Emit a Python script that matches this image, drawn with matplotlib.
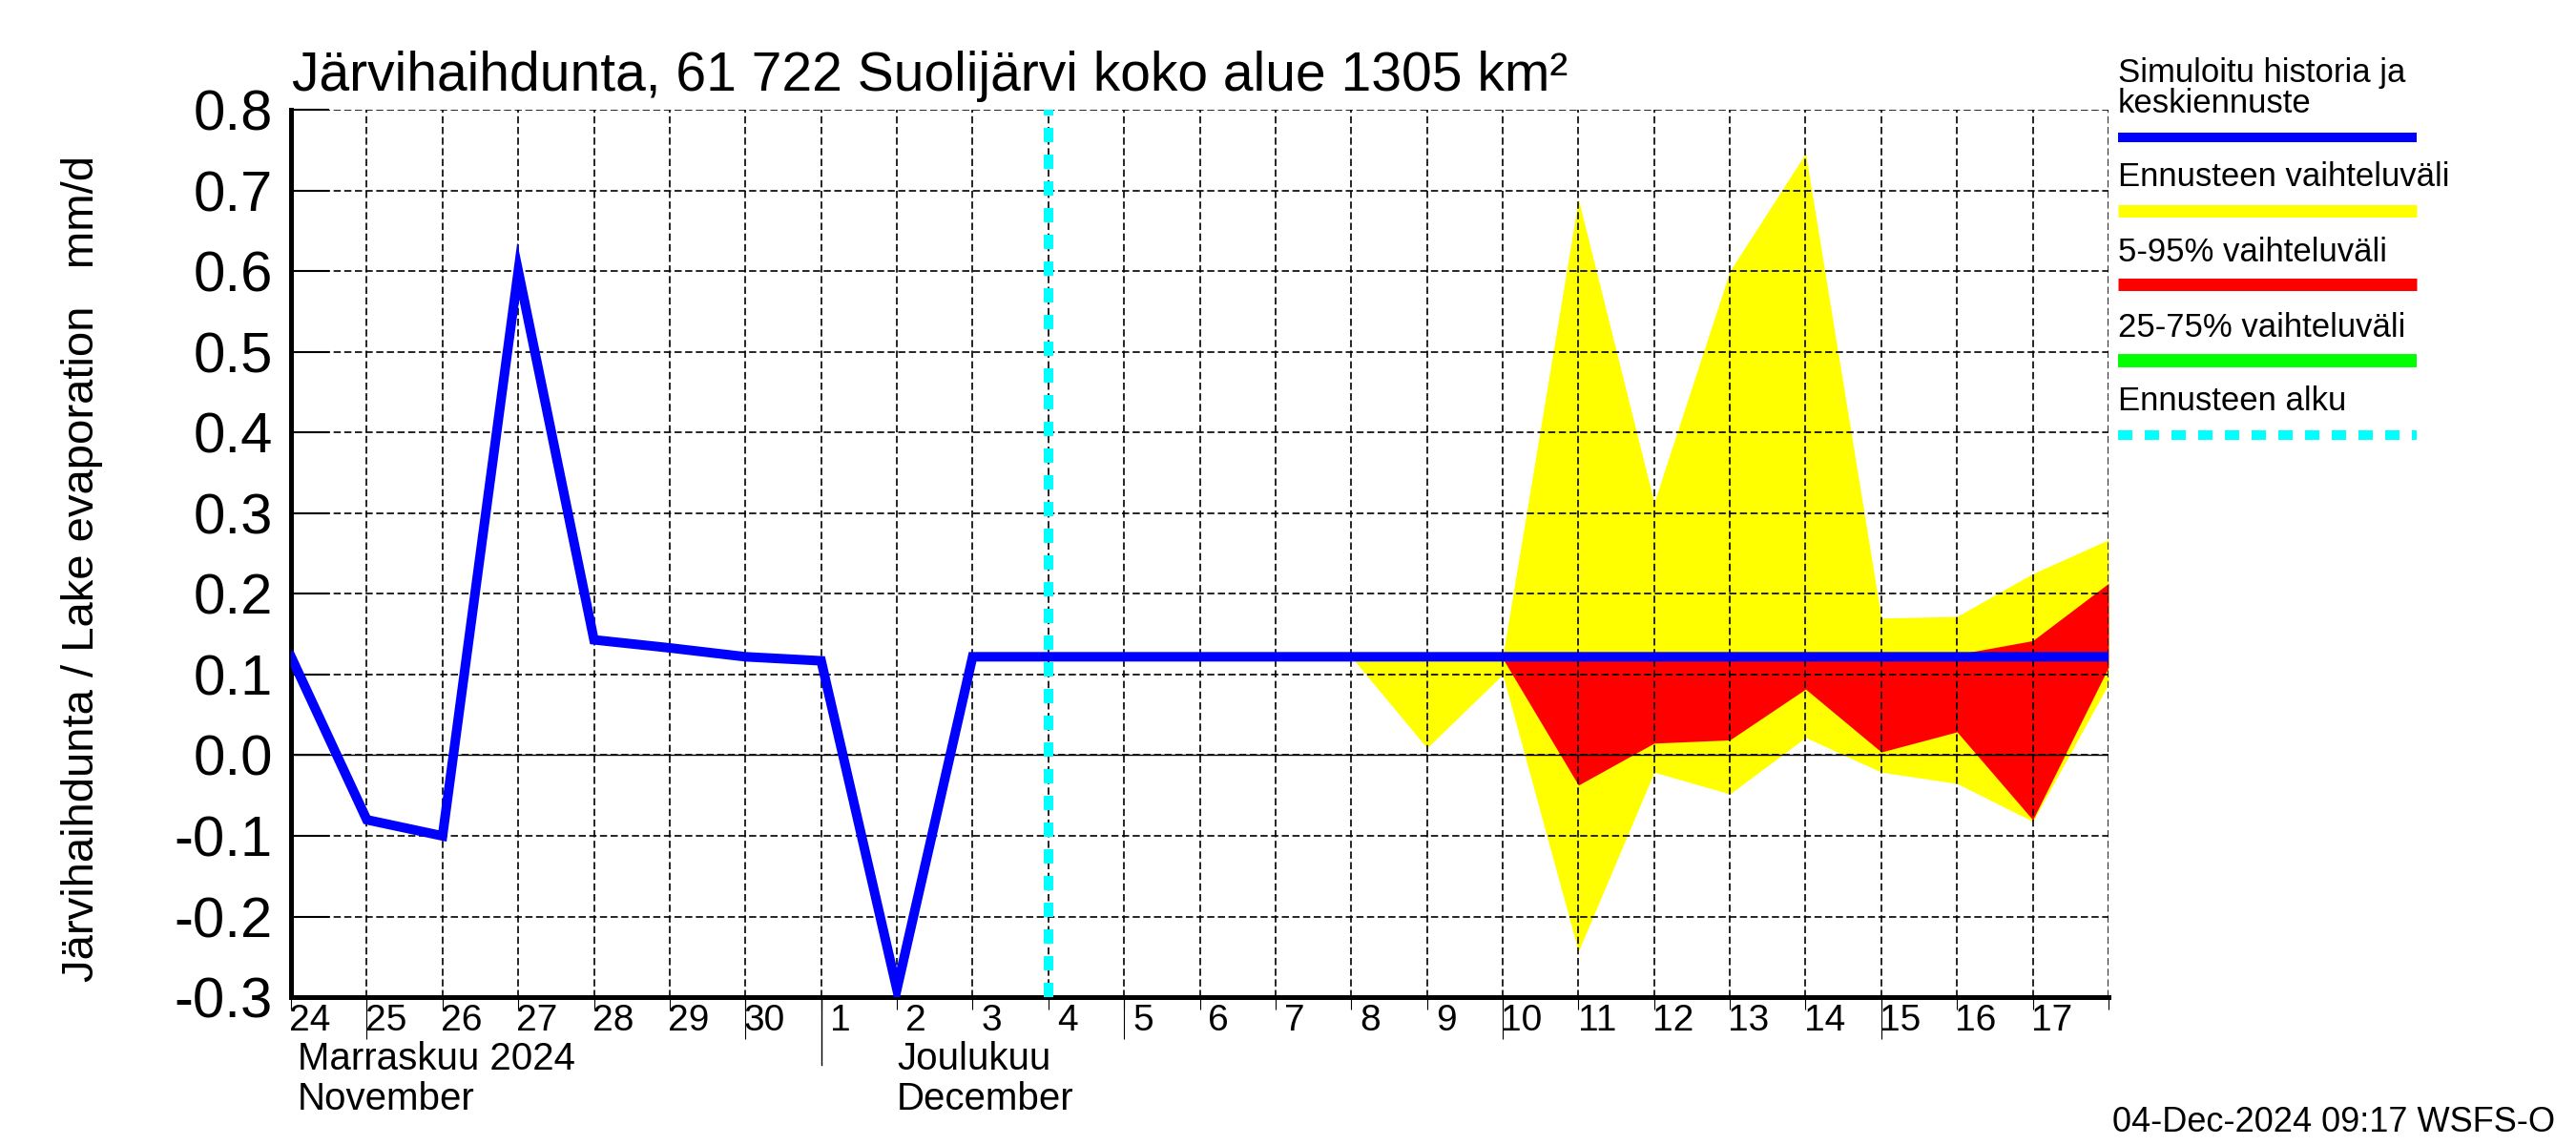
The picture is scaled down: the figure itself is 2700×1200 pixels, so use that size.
import numpy as np
import matplotlib
matplotlib.use("Agg")
import matplotlib.pyplot as plt
import matplotlib.dates as mdates
from matplotlib.lines import Line2D
from matplotlib.transforms import blended_transform_factory

NARROW = ["Liberation Sans Narrow", "Liberation Sans", "DejaVu Sans"]
REGULAR = ["Liberation Sans", "DejaVu Sans"]

# simulated history + mean forecast, one value per day (00:00)
sim_dates = np.arange("2024-11-24", "2024-12-19", dtype="datetime64[D]")
sim_vals = [0.122, -0.080, -0.100, 0.600, 0.143, 0.133, 0.122, 0.117, -0.290, 0.122,
            0.122, 0.122, 0.122, 0.122, 0.122, 0.122, 0.122, 0.122, 0.122, 0.122,
            0.122, 0.122, 0.122, 0.122, 0.122]

# forecast range (min-max)
ens_dates = np.arange("2024-12-08", "2024-12-19", dtype="datetime64[D]")
ens_hi = [0.122, 0.122, 0.122, 0.689, 0.313, 0.600, 0.746, 0.170, 0.172, 0.225, 0.267]
ens_lo = [0.122, 0.009, 0.100, -0.243, -0.021, -0.048, 0.022, -0.021, -0.035, -0.082, 0.088]

# 5-95 % range
p5_dates = np.arange("2024-12-10", "2024-12-19", dtype="datetime64[D]")
p95 = [0.122, 0.122, 0.122, 0.122, 0.122, 0.122, 0.125, 0.142, 0.213]
p5 = [0.120, -0.037, 0.015, 0.019, 0.082, 0.004, 0.029, -0.080, 0.109]

fc_start = np.datetime64("2024-12-04")
yticks = [-0.3, -0.2, -0.1, 0.0, 0.1, 0.2, 0.3, 0.4, 0.5, 0.6, 0.7, 0.8]

title = "Järvihaihdunta, 61 722 Suolijärvi koko alue 1305 km²"
ylab = "Järvihaihdunta / Lake evaporation   mm/d"
legend_items = [("Simuloitu historia ja\nkeskiennuste", "#0000FF"),
                ("Ennusteen vaihteluväli", "#FFFF00"),
                ("5-95% vaihteluväli", "#FF0000"),
                ("25-75% vaihteluväli", "#00FF00"),
                ("Ennusteen alku", "#00FFFF")]

fig = plt.figure(figsize=(27, 12), dpi=100)
ax = fig.add_axes([0.113, 0.129, 0.7055, 0.7752])

ax.fill_between(ens_dates, ens_lo, ens_hi, color="#FFFF00", lw=0, zorder=1)
ax.fill_between(p5_dates, p5, p95, color="#FF0000", lw=0, zorder=1.5)
ax.axhline(0, color="black", lw=1.0, zorder=2.6)
ax.plot(sim_dates, sim_vals, color="#0000FF", lw=7.2, zorder=3, solid_joinstyle="miter")
ax.axvline(fc_start, color="#00FFFF", lw=7.2, ls=(0, (1.5, 1.3)), zorder=4)

ax.set_xlim(np.datetime64("2024-11-24"), np.datetime64("2024-12-18"))
ax.set_ylim(-0.3, 0.8)
ax.set_yticks(yticks)
ax.yaxis.set_major_formatter(matplotlib.ticker.FormatStrFormatter("%.1f"))
ax.tick_params(axis="y", direction="in", length=29, width=1.5, pad=14, labelsize=43)
for lab in ax.get_yticklabels():
    lab.set_family(REGULAR)

ax.xaxis.set_major_locator(mdates.DayLocator())
ax.xaxis.set_major_formatter(matplotlib.ticker.NullFormatter())
ax.xaxis.set_minor_locator(mdates.HourLocator(byhour=[6]))
ax.xaxis.set_minor_formatter(mdates.DateFormatter("%-d"))
ax.tick_params(axis="x", which="major", direction="out", length=9, width=0.8)
ax.tick_params(axis="x", which="minor", length=0, pad=5, labelsize=28)
for lab in ax.get_xticklabels(minor=True):
    lab.set_family(NARROW)

# longer ticks every fifth day
sec = ax.secondary_xaxis("bottom")
sec.xaxis.set_major_locator(mdates.DayLocator(bymonthday=[5, 10, 15, 20, 25, 30]))
sec.xaxis.set_major_formatter(matplotlib.ticker.NullFormatter())
sec.tick_params(axis="x", direction="out", length=32, width=0.8)
sec.spines["bottom"].set_visible(False)

ax.set_axisbelow(False)
ax.grid(True, which="major", color="black", ls=(0, (4.5, 2.2)), lw=1.2)
for s in ["top", "right"]:
    ax.spines[s].set_visible(False)
for s in ["left", "bottom"]:
    ax.spines[s].set_linewidth(3.6)

# month separator and month names
bt = blended_transform_factory(ax.transData, ax.transAxes)
ax.plot([np.datetime64("2024-12-01"), np.datetime64("2024-12-01")], [0, -0.076],
        transform=bt, color="black", lw=1.0, clip_on=False)
ft = blended_transform_factory(ax.transData, fig.transFigure)
ax.text(np.datetime64("2024-11-24T02"), 0.075, "Marraskuu 2024", transform=ft,
        ha="left", va="center", fontsize=29, family=NARROW)
ax.text(np.datetime64("2024-11-24T02"), 0.040, "November", transform=ft,
        ha="left", va="center", fontsize=29, family=NARROW)
ax.text(np.datetime64("2024-12-02"), 0.075, "Joulukuu", transform=ft,
        ha="left", va="center", fontsize=29, family=NARROW)
ax.text(np.datetime64("2024-12-02"), 0.040, "December", transform=ft,
        ha="left", va="center", fontsize=29, family=NARROW)

fig.text(0.1133, 0.921, title, ha="left", va="baseline", fontsize=41, family=NARROW)
fig.text(0.032, 0.503, ylab, rotation=90, ha="center", va="center", fontsize=34, family=NARROW)
fig.text(0.992, 0.02, "04-Dec-2024 09:17 WSFS-O", ha="right", va="center",
         fontsize=26, family=NARROW)

# legend on the right
lx0, lx1 = 0.8222, 0.938
text_y = [0.950, 0.8375, 0.7715, 0.7055, 0.6415]
line_y = [0.880, 0.816, 0.7517, 0.685, 0.620]
line_w = [7.2, 9.4, 9.4, 10.0, 7.2]
for i, (txt, col) in enumerate(legend_items):
    if i == 0:
        fig.text(lx0, text_y[i], txt, ha="left", va="top", fontsize=25,
                 family=REGULAR, linespacing=0.95)
    else:
        fig.text(lx0, text_y[i], txt, ha="left", va="baseline", fontsize=25, family=REGULAR)
    ls = (0, (1.5, 1.3)) if i == 4 else "-"
    fig.add_artist(Line2D([lx0, lx1], [line_y[i], line_y[i]], transform=fig.transFigure,
                          color=col, lw=line_w[i], ls=ls, solid_capstyle="butt"))

fig.savefig("out.png", dpi=100)
